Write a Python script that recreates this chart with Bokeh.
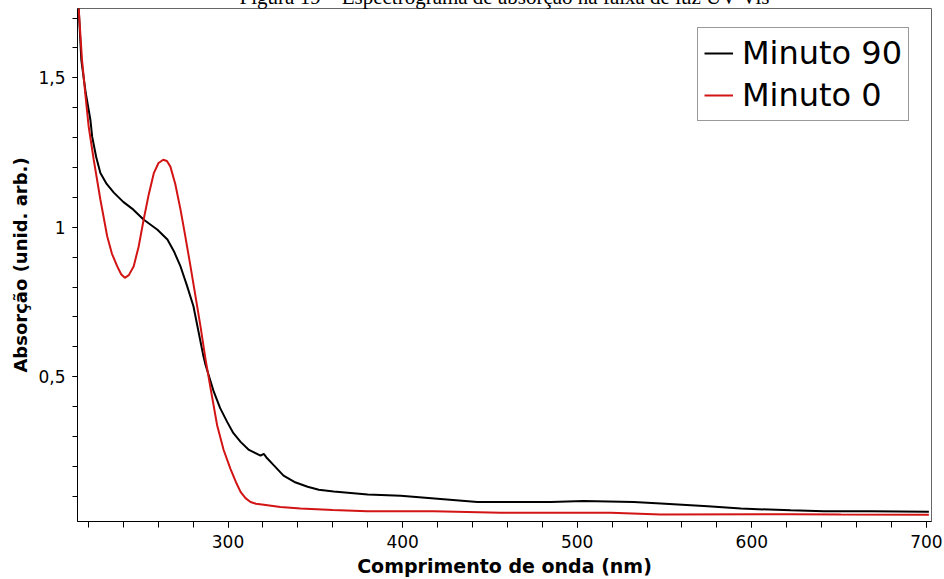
from bokeh.plotting import figure
from bokeh.models import (Range1d, FixedTicker, Legend, LegendItem, Title)
from bokeh.embed import file_html
from bokeh.resources import INLINE

# ---- data ----
wl_90 = [212.5, 214.5, 216.0, 218.5, 221.2, 222.2, 224.5, 226.9, 230.5, 234.6, 240.0,
         245.8, 251.6, 259.6, 265.3, 269.0, 272.8, 276.5, 280.2, 285.9, 287.1, 291.9,
         295.5, 299.5, 303.0, 307.2, 312.0, 318.6, 320.5, 322.0, 326.0, 331.8, 338.0,
         345.6, 352.0, 360.5, 380.0, 398.9, 420.0, 442.8, 484.8, 503.7, 532.4, 547.9,
         574.8, 593.7, 622.3, 641.3, 668.2, 701.4]
ab_90 = [1.80, 1.73, 1.559, 1.45, 1.359, 1.303, 1.235, 1.182, 1.145, 1.116, 1.085,
         1.059, 1.026, 0.992, 0.959, 0.920, 0.869, 0.805, 0.736, 0.569, 0.540, 0.449,
         0.395, 0.349, 0.312, 0.282, 0.255, 0.236, 0.242, 0.230, 0.205, 0.169, 0.148,
         0.132, 0.122, 0.116, 0.106, 0.102, 0.092, 0.081, 0.081, 0.084, 0.081, 0.076,
         0.067, 0.059, 0.053, 0.050, 0.050, 0.048]

wl_0 = [212.5, 214.5, 216.4, 218.3, 220.2, 223.1, 226.9, 230.8, 233.5, 236.5, 238.8,
        240.9, 243.2, 246.0, 248.8, 251.7, 254.6, 257.5, 260.2, 262.9, 265.0, 267.0,
        269.8, 272.8, 275.6, 278.5, 284.2, 287.1, 290.5, 293.8, 297.5, 301.4, 304.5,
        307.2, 310.0, 312.9, 316.0, 320.5, 330.0, 341.5, 360.0, 379.8, 417.8, 456.2,
        519.2, 547.8, 622.3, 651.0, 701.4]
ab_0 = [1.80, 1.73, 1.559, 1.445, 1.337, 1.226, 1.093, 0.970, 0.912, 0.870, 0.843,
        0.831, 0.840, 0.870, 0.935, 1.026, 1.110, 1.181, 1.215, 1.226, 1.222, 1.203,
        1.145, 1.059, 0.968, 0.870, 0.670, 0.559, 0.445, 0.337, 0.255, 0.192, 0.148,
        0.115, 0.094, 0.081, 0.075, 0.072, 0.064, 0.059, 0.054, 0.050, 0.050, 0.045,
        0.045, 0.039, 0.040, 0.039, 0.038]

x_major = [300, 400, 500, 600, 700]
x_minor = list(range(220, 701, 20))
y_major = [0.5, 1.0, 1.5]
y_minor = [0.1, 0.2, 0.3, 0.4, 0.5, 0.6, 0.7, 0.8, 0.9, 1.0, 1.1, 1.2, 1.3, 1.4, 1.5, 1.6, 1.7]
y_labels = {0.5: "0,5", 1.0: "1", 1.5: "1,5"}

series_names = ["Minuto 90", "Minuto 0"]
title_text = "Figura 19 – Espectrograma de absorção na faixa de luz UV-Vis"
x_title = "Comprimento de onda (nm)"
y_title = "Absorção (unid. arb.)"

TOP = 40          # top panel (holds the title, mostly scrolled above the page)
SHIFT = TOP - 8   # so the plot frame's top edge lands 8px below the page top

p = figure(width=944, height=579 + SHIFT, output_backend="svg", toolbar_location=None,
           x_range=Range1d(213.8, 702.9), y_range=Range1d(0.0157, 1.732),
           min_border_left=77, min_border_right=13, min_border_top=TOP,
           min_border_bottom=40)
p.styles = {"margin-top": f"-{SHIFT}px"}
p.background_fill_color = "white"
p.border_fill_color = "white"
p.outline_line_color = "#666666"
p.outline_line_width = 1
p.grid.visible = False

p.title = Title(text=title_text, align="center", text_font="Liberation Serif",
                text_font_size="21px", text_font_style="normal",
                text_color="black", standoff=0, offset=27)

r90 = p.line(wl_90, ab_90, line_color="black", line_width=2)
r0 = p.line(wl_0, ab_0, line_color="#d21414", line_width=2)

FONT = "DejaVu Sans"
xa = p.xaxis[0]
xa.ticker = FixedTicker(ticks=x_major, minor_ticks=x_minor)
xa.axis_label = x_title
xa.axis_label_text_font = FONT
xa.axis_label_text_font_style = "bold"
xa.axis_label_text_font_size = "19px"
xa.axis_label_text_color = "black"
xa.axis_label_standoff = 4
xa.major_label_text_font = FONT
xa.major_label_text_font_size = "17px"
xa.major_label_text_color = "black"
xa.major_label_standoff = 7
xa.major_tick_in = 0
xa.major_tick_out = 6
xa.minor_tick_in = 0
xa.minor_tick_out = 6
xa.axis_line_color = "black"
xa.major_tick_line_color = "black"
xa.minor_tick_line_color = "black"

ya = p.yaxis[0]
ya.ticker = FixedTicker(ticks=y_major, minor_ticks=y_minor)
ya.major_label_overrides = y_labels
ya.axis_label = y_title
ya.axis_label_text_font = FONT
ya.axis_label_text_font_style = "bold"
ya.axis_label_text_font_size = "18px"
ya.axis_label_text_color = "black"
ya.axis_label_standoff = 4
ya.major_label_text_font = FONT
ya.major_label_text_font_size = "17px"
ya.major_label_text_color = "black"
ya.major_label_standoff = 7
ya.major_tick_in = 0
ya.major_tick_out = 5
ya.minor_tick_in = 0
ya.minor_tick_out = 5
ya.axis_line_color = "black"
ya.major_tick_line_color = "black"
ya.minor_tick_line_color = "black"

legend = Legend(items=[LegendItem(label=series_names[0], renderers=[r90]),
                       LegendItem(label=series_names[1], renderers=[r0])],
                location=(620, 400))
legend.label_text_font = FONT
legend.label_text_font_size = "32px"
legend.label_text_color = "black"
legend.glyph_width = 29
legend.glyph_height = 36
legend.label_height = 36
legend.label_standoff = 9
legend.padding = 6
legend.spacing = 4
legend.margin = 0
legend.border_line_color = "#333333"
legend.border_line_width = 1
legend.background_fill_alpha = 1.0
p.add_layout(legend)

open("out.html", "w").write(file_html(p, INLINE))
